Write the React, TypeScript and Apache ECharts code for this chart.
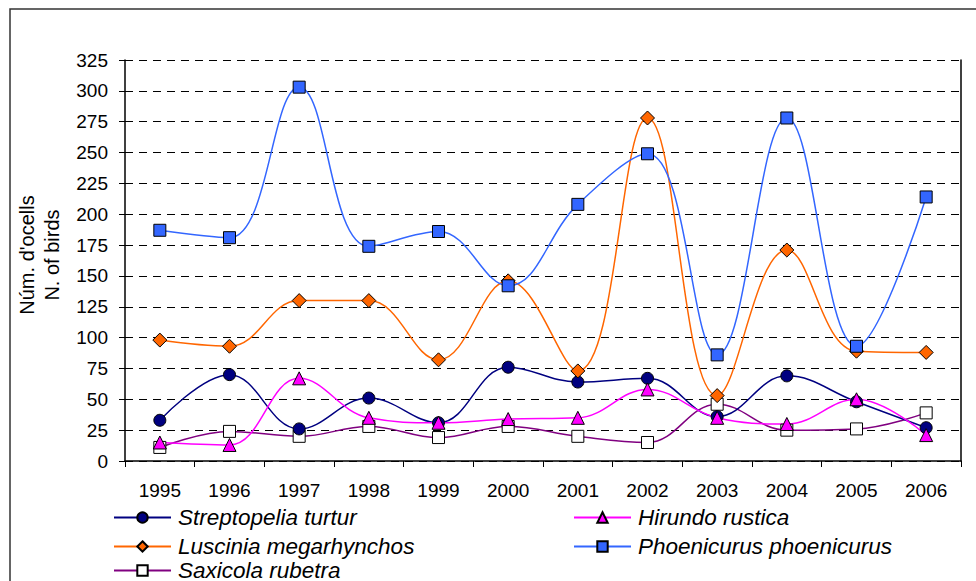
import React, { useEffect, useRef } from "react";
import * as echarts from "echarts";

const years = ["1995", "1996", "1997", "1998", "1999", "2000", "2001", "2002", "2003", "2004", "2005", "2006"];
const streptopelia = [33, 70, 26, 51, 31, 76, 64, 67, 36, 69, 48, 27];
const hirundo = [15, 13, 67, 35, 31, 34, 35, 58, 35, 30, 50, 21];
const luscinia = [98, 93, 130, 130, 82, 146, 73, 278, 53, 171, 89, 88];
const phoenicurus = [187, 181, 303, 174, 186, 142, 208, 249, 86, 278, 93, 214];
const saxicola = [11, 24, 20, 28, 19, 28, 20, 15, 46, 25, 26, 39];

const FONT = "Arial, 'Liberation Sans', sans-serif";

export default function App() {
  const ref = useRef<HTMLDivElement>(null);
  useEffect(() => {
    if (!ref.current) return;
    const chart = echarts.init(ref.current, null, { renderer: "svg" });
    const mk = (name: string, data: number[], symbol: string, fill: string, line: string, size: number) => ({
      name,
      type: "line",
      data,
      smooth: 0.4,
      symbol,
      symbolSize: size,
      showAllSymbol: true,
      lineStyle: { color: line, width: 1.5 },
      itemStyle: { color: fill, borderColor: "#000", borderWidth: 1 },
      emphasis: { disabled: true },
    });
    const leg = (name: string, left: number, top: number) => ({
      orient: "horizontal",
      left,
      top,
      padding: 0,
      itemWidth: 57,
      itemHeight: 13,
      data: [name],
      textStyle: { fontSize: 22.5, fontStyle: "italic", color: "#000", fontFamily: FONT, lineHeight: 21, padding: [0, 0, 0, 2] },
      selectedMode: false,
    });
    chart.setOption({
      animation: false,
      backgroundColor: "#fff",
      textStyle: { fontFamily: FONT },
      grid: { left: 125, right: 15, top: 60, bottom: 120, containLabel: false },
      graphic: [
        {
          type: "rect",
          shape: { x: 10, y: 9, width: 1000, height: 600 },
          style: { fill: "none", stroke: "#333", lineWidth: 1.5 },
          silent: true,
        },
        {
          type: "text",
          x: 39,
          y: 255,
          rotation: Math.PI / 2,
          style: {
            text: "Núm. d'ocells\nN. of birds",
            font: "20px " + FONT,
            fill: "#000",
            align: "center",
            verticalAlign: "middle",
            lineHeight: 25,
          },
          silent: true,
        },
      ],
      xAxis: {
        type: "category",
        data: years,
        boundaryGap: true,
        axisLine: { lineStyle: { color: "#000", width: 1.5 } },
        axisTick: { show: true, length: 6, lineStyle: { color: "#000", width: 1 } },
        axisLabel: { color: "#000", fontSize: 19, margin: 20, fontFamily: FONT },
        splitLine: { show: false },
      },
      yAxis: [
        {
          type: "value",
          min: 0,
          max: 325,
          interval: 25,
          axisLine: { show: true, lineStyle: { color: "#000", width: 1.5 } },
          axisTick: { show: true, length: 6, lineStyle: { color: "#000", width: 1 } },
          axisLabel: { color: "#000", fontSize: 19, margin: 17, fontFamily: FONT },
          splitLine: { show: true, lineStyle: { color: "#000", width: 1, type: [8, 6] } },
        },
        {
          type: "value",
          min: 0,
          max: 325,
          interval: 25,
          position: "right",
          axisLine: { show: true, lineStyle: { color: "#000", width: 1.5 } },
          axisTick: { show: false },
          axisLabel: { show: false },
          splitLine: { show: false },
        },
      ],
      legend: [
        leg("Streptopelia turtur", 113, 506),
        leg("Luscinia megarhynchos", 113, 535),
        leg("Saxicola rubetra", 113, 559),
        leg("Hirundo rustica", 573, 506),
        leg("Phoenicurus phoenicurus", 573, 535),
      ],
      series: [
        mk("Saxicola rubetra", saxicola, "rect", "#ffffff", "#800080", 12),
        mk("Streptopelia turtur", streptopelia, "circle", "#000080", "#000080", 12),
        mk("Luscinia megarhynchos", luscinia, "diamond", "#FF6600", "#FF6600", 14),
        mk("Phoenicurus phoenicurus", phoenicurus, "rect", "#3366FF", "#3366FF", 12),
        mk("Hirundo rustica", hirundo, "triangle", "#FF00FF", "#FF00FF", 13),
      ],
    });
    return () => chart.dispose();
  }, []);
  return (
    <div
      ref={ref}
      style={{ position: "absolute", left: 0, top: 0, width: 976, height: 581, background: "#fff" }}
    />
  );
}
